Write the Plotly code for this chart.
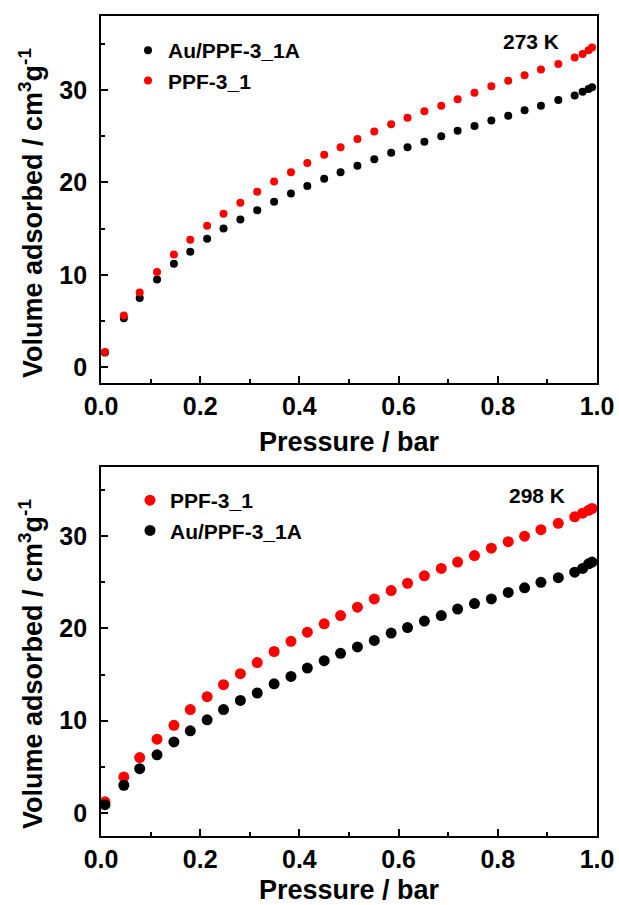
import plotly.graph_objects as go

# ---------------- data ----------------
pressure = [0.008, 0.046, 0.078, 0.113, 0.147, 0.180, 0.214, 0.247, 0.281, 0.315,
            0.349, 0.383, 0.416, 0.450, 0.483, 0.517, 0.551, 0.585, 0.618, 0.652,
            0.686, 0.719, 0.753, 0.787, 0.821, 0.854, 0.887, 0.922, 0.955, 0.971,
            0.983, 0.990]

top_au = [1.6, 5.3, 7.5, 9.5, 11.2, 12.5, 13.9, 15.0, 16.0, 17.0,
          17.9, 18.8, 19.6, 20.4, 21.1, 21.8, 22.5, 23.2, 23.8, 24.4,
          25.0, 25.6, 26.1, 26.7, 27.2, 27.8, 28.3, 28.9, 29.4, 29.8,
          30.1, 30.3]
top_ppf = [1.65, 5.6, 8.1, 10.3, 12.2, 13.8, 15.3, 16.6, 17.8, 19.0,
           20.1, 21.1, 22.1, 23.0, 23.8, 24.7, 25.5, 26.3, 27.0, 27.7,
           28.3, 29.0, 29.7, 30.4, 31.0, 31.6, 32.2, 32.8, 33.5, 33.9,
           34.3, 34.6]

bot_ppf = [1.2, 3.9, 6.0, 8.0, 9.5, 11.2, 12.6, 13.9, 15.1, 16.3,
           17.5, 18.6, 19.6, 20.5, 21.4, 22.3, 23.2, 24.1, 24.9, 25.7,
           26.5, 27.2, 27.9, 28.7, 29.4, 30.0, 30.7, 31.4, 32.1, 32.5,
           32.8, 33.0]
bot_au = [0.9, 3.0, 4.8, 6.3, 7.7, 8.9, 10.1, 11.2, 12.2, 13.0,
          14.0, 14.8, 15.7, 16.5, 17.3, 18.0, 18.7, 19.5, 20.1, 20.8,
          21.4, 22.1, 22.7, 23.2, 23.9, 24.4, 25.0, 25.5, 26.1, 26.5,
          27.0, 27.2]

name_au = "Au/PPF-3_1A"
name_ppf = "PPF-3_1"
temp_top = "273 K"
temp_bot = "298 K"
x_title = "Pressure / bar"
y_title = "Volume adsorbed / cm<sup>3</sup>g<sup>-1</sup>"

RED = "#ff0000"
BLACK = "#000000"
FONT = "Liberation Sans, Arial, sans-serif"

W, H = 619, 905
L, R = 101, 22

fig = go.Figure()

# top panel
fig.add_trace(go.Scatter(x=pressure, y=top_au, mode="markers", name=name_au,
                         marker=dict(color=BLACK, size=8), xaxis="x", yaxis="y",
                         legend="legend"))
fig.add_trace(go.Scatter(x=pressure, y=top_ppf, mode="markers", name=name_ppf,
                         marker=dict(color=RED, size=8), xaxis="x", yaxis="y",
                         legend="legend"))
# bottom panel
fig.add_trace(go.Scatter(x=pressure, y=bot_ppf, mode="markers", name=name_ppf,
                         marker=dict(color=RED, size=11), xaxis="x2", yaxis="y2",
                         legend="legend2"))
fig.add_trace(go.Scatter(x=pressure, y=bot_au, mode="markers", name=name_au,
                         marker=dict(color=BLACK, size=11), xaxis="x2", yaxis="y2",
                         legend="legend2"))


def py(px):
    return 1 - px / H


def px_x(px):
    return (px - L) / (W - L - R)


common = dict(showline=True, linecolor="black", linewidth=2, mirror=True,
              ticks="inside", ticklen=7, tickwidth=2, tickcolor="black",
              showgrid=False, zeroline=False,
              tickfont=dict(family=FONT, size=25, color="black", weight="bold"))

xax = dict(common, range=[0, 1], dtick=0.2, tick0=0, tickformat=".1f",
           minor=dict(dtick=0.1, ticks="inside", ticklen=4, tickwidth=2, tickcolor="black"))
yax_minor = dict(dtick=5, ticks="inside", ticklen=4, tickwidth=2, tickcolor="black")

fig.update_layout(
    width=W, height=H,
    margin=dict(l=L, r=R, t=0, b=0),
    paper_bgcolor="white", plot_bgcolor="white",
    font=dict(family=FONT, color="black", weight="bold"),
    xaxis=dict(xax, domain=[0, 1], anchor="y"),
    yaxis=dict(common, range=[-1.7, 38.0], dtick=10, tick0=0, minor=yax_minor,
               ticksuffix="\u00a0",
               domain=[py(383), py(16)], anchor="x"),
    xaxis2=dict(xax, domain=[0, 1], anchor="y2"),
    yaxis2=dict(common, range=[-2.5, 37.5], dtick=10, tick0=0, minor=yax_minor,
                ticksuffix="\u00a0",
                domain=[py(836), py(467)], anchor="x2"),
    legend=dict(x=px_x(128), xanchor="left", y=py(30), yanchor="top",
                bgcolor="rgba(0,0,0,0)", itemwidth=30,
                font=dict(family=FONT, size=21, color="black", weight="bold")),
    legend2=dict(x=px_x(130), xanchor="left", y=py(480), yanchor="top",
                 bgcolor="rgba(0,0,0,0)", itemwidth=30,
                 font=dict(family=FONT, size=21, color="black", weight="bold")),
    showlegend=True,
)

ann_font_t = dict(family=FONT, size=27, color="black", weight="bold")
ann_font_s = dict(family=FONT, size=21, color="black", weight="bold")
annotations = [
    dict(text=x_title, xref="paper", yref="paper", x=0.5, y=py(442),
         xanchor="center", yanchor="middle", showarrow=False, font=ann_font_t),
    dict(text=x_title, xref="paper", yref="paper", x=0.5, y=py(890),
         xanchor="center", yanchor="middle", showarrow=False, font=ann_font_t),
    dict(text=y_title, xref="paper", yref="paper", x=px_x(31), y=py(213),
         xanchor="center", yanchor="middle", textangle=-90, showarrow=False, font=ann_font_t),
    dict(text=y_title, xref="paper", yref="paper", x=px_x(31), y=py(664),
         xanchor="center", yanchor="middle", textangle=-90, showarrow=False, font=ann_font_t),
    dict(text=temp_top, xref="paper", yref="paper", x=px_x(531), y=py(41),
         xanchor="center", yanchor="middle", showarrow=False, font=ann_font_s),
    dict(text=temp_bot, xref="paper", yref="paper", x=px_x(537), y=py(495),
         xanchor="center", yanchor="middle", showarrow=False, font=ann_font_s),
]
fig.update_layout(annotations=annotations)

fig.write_html("out.html")
